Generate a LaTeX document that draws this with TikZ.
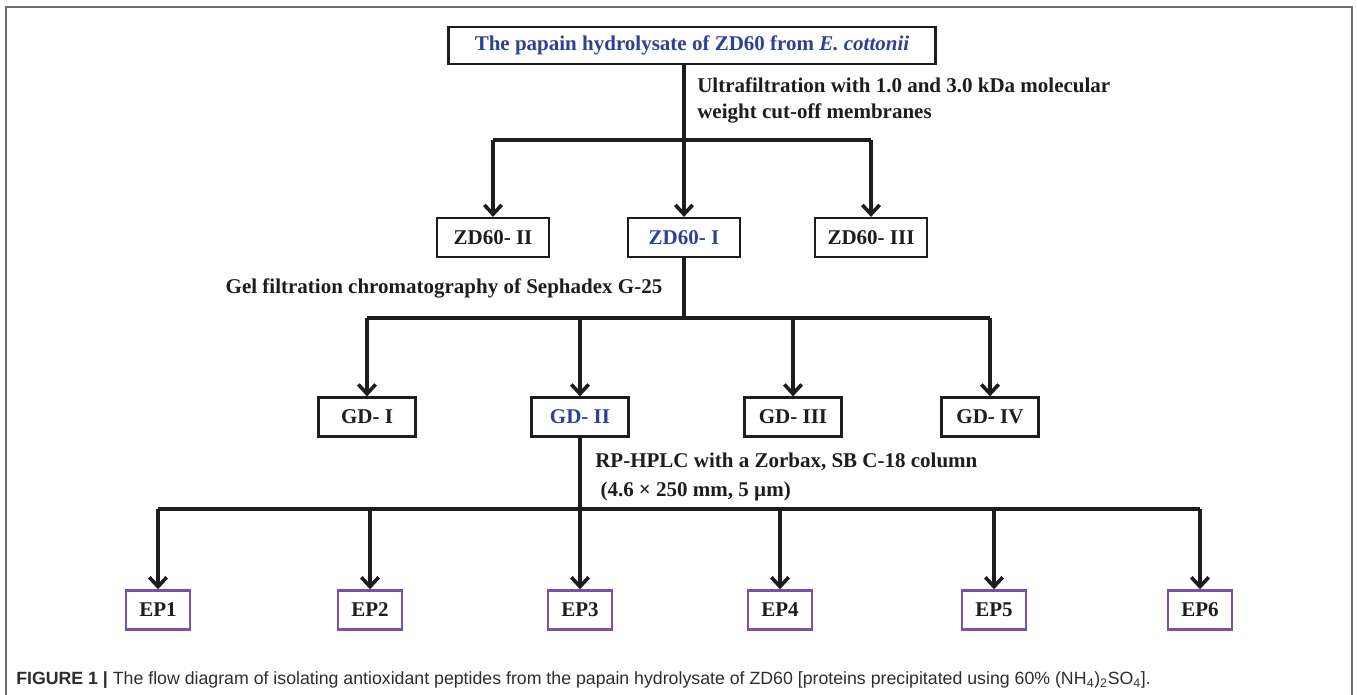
\documentclass[tikz,border=0pt]{standalone}
\usepackage{fontspec}
\setmainfont{Liberation Serif}
\setsansfont{Liberation Sans}
\usepackage{tikz}
\usetikzlibrary{positioning, arrows.meta, calc}

\definecolor{hlblue}{RGB}{46,64,152}
\definecolor{eppurple}{RGB}{122,82,163}
\definecolor{inkblack}{RGB}{30,28,30}
\definecolor{framegray}{RGB}{110,110,110}
\definecolor{capgray}{RGB}{45,45,45}

\tikzset{
  box/.style={draw=inkblack, line width=1.9pt, minimum height=29pt, inner xsep=4pt, text=inkblack},
  titlebox/.style={box, minimum width=365pt, minimum height=27.5pt, text=hlblue},
  zdbox/.style={box, minimum width=84pt},
  gdbox/.style={box, minimum width=73pt},
  epbox/.style={box, draw=eppurple, line width=2.1pt, minimum width=48pt},
  lbl/.style={inner sep=0pt, text=inkblack},
  link/.style={draw=inkblack, line width=2.7pt},
  arr/.style={link, -{Straight Barb[length=7pt, width=13pt]}}
}

\begin{document}
\begin{tikzpicture}[x=0.75pt, y=-0.75pt, font=\fontsize{15.75}{19}\selectfont\bfseries]
  \useasboundingbox (0,0) rectangle (1357,695);
  % outer frame, open at the bottom
  \draw[framegray, line width=0.9pt] (6,695) -- (6,7) -- (1352,7) -- (1352,695);

  % hydrolysate and ultrafiltration
  \node[titlebox] (top) at (692,45.5) {The papain hydrolysate of ZD60 from \textit{E. cottonii}};
  \node[lbl, anchor=west, align=left] (ultra) at (697,100.5) {Ultrafiltration with 1.0 and 3.0 kDa molecular\\weight cut-off membranes};
  \node[zdbox] (zd2) at (493,237.5) {ZD60- II};
  \node[zdbox, text=hlblue] (zd1) at (684,237.5) {ZD60- I};
  \node[zdbox] (zd3) at (871,237.5) {ZD60- III};
  \coordinate (b1) at (684,140);
  \draw[link] (top.south -| b1) -- (b1);
  \draw[link] (zd2 |- b1) -- (zd3 |- b1);
  \draw[arr] (zd2 |- b1) -- (zd2);
  \draw[arr] (b1) -- (zd1);
  \draw[arr] (zd3 |- b1) -- (zd3);

  % gel filtration
  \node[lbl] (gel) at (444,288) {Gel filtration chromatography of Sephadex G-25};
  \node[gdbox] (gd1) at (367,417) {GD- I};
  \node[gdbox, text=hlblue] (gd2) at (580,417) {GD- II};
  \node[gdbox] (gd3) at (793,417) {GD- III};
  \node[gdbox] (gd4) at (990,417) {GD- IV};
  \coordinate (b2) at (684,318);
  \draw[link] (zd1) -- (b2);
  \draw[link] (gd1 |- b2) -- (gd4 |- b2);
  \foreach \n in {gd1,gd2,gd3,gd4}
    \draw[arr] (\n |- b2) -- (\n);

  % RP-HPLC
  \node[lbl, anchor=west, align=left] (hplc) at (595,477) {RP-HPLC with a Zorbax, SB C-18 column\\[3pt]\ (4.6 × 250 mm, 5 µm)};
  \node[epbox] (ep1) at (158,610) {EP1};
  \node[epbox] (ep2) at (370,610) {EP2};
  \node[epbox] (ep3) at (580,610) {EP3};
  \node[epbox] (ep4) at (780,610) {EP4};
  \node[epbox] (ep5) at (994,610) {EP5};
  \node[epbox] (ep6) at (1200,610) {EP6};
  \coordinate (b3) at (580,509);
  \draw[link] (gd2) -- (b3);
  \draw[link] (ep1 |- b3) -- (ep6 |- b3);
  \foreach \n in {ep1,ep2,ep3,ep4,ep5,ep6}
    \draw[arr] (\n |- b3) -- (\n);

  % caption
  \node[lbl, anchor=west, text=capgray, font=\fontsize{13.3}{16}\selectfont\sffamily] (cap) at (16,680)
    {\textbf{FIGURE 1 |} The flow diagram of isolating antioxidant peptides from the papain hydrolysate of ZD60 [proteins precipitated using 60\% (NH\textsubscript{4})\textsubscript{2}SO\textsubscript{4}].};
\end{tikzpicture}
\end{document}
